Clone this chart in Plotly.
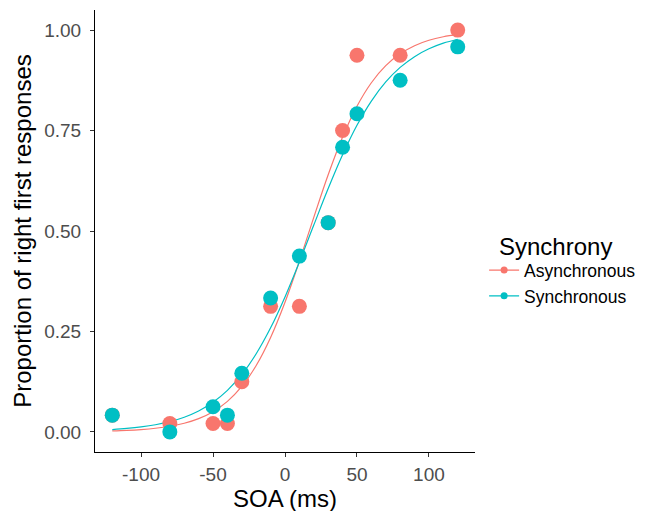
import plotly.graph_objects as go

# Observed proportions
soa = [-120, -80, -50, -40, -30, -10, 10, 30, 40, 50, 80, 120]
async_prop = [0.0417, 0.0208, 0.0208, 0.0208, 0.125, 0.3125, 0.3125, 0.5208, 0.75, 0.9375, 0.9375, 1.0]
sync_prop = [0.0417, 0.0, 0.0625, 0.0417, 0.1458, 0.3333, 0.4375, 0.5208, 0.7083, 0.7917, 0.875, 0.9583]

# Fitted curves
fit_x = [-120, -110, -100, -90, -80, -70, -60, -50, -40, -30, -20, -10, 0,
         10, 20, 30, 40, 50, 60, 70, 80, 90, 100, 110, 120]
fit_async = [0.0025, 0.0038, 0.0059, 0.0091, 0.0140, 0.0216, 0.0331, 0.0504, 0.0760,
             0.1131, 0.1652, 0.2349, 0.3226, 0.4248, 0.5340, 0.6400, 0.7338, 0.8105,
             0.8690, 0.9114, 0.9410, 0.9612, 0.9746, 0.9835, 0.9893]
fit_sync = [0.0059, 0.0086, 0.0124, 0.0178, 0.0256, 0.0366, 0.0521, 0.0737, 0.1033,
            0.1429, 0.1945, 0.2590, 0.3360, 0.4229, 0.5147, 0.6056, 0.6897, 0.7630,
            0.8233, 0.8709, 0.9071, 0.9339, 0.9535, 0.9674, 0.9772]

groups = ["Asynchronous", "Synchronous"]
colors = ["#F8766D", "#00BFC4"]
x_ticks = [-100, -50, 0, 50, 100]
y_ticks = [0.0, 0.25, 0.5, 0.75, 1.0]

FONT = "Liberation Sans, Arial, Helvetica, sans-serif"

fig = go.Figure()
for name, col, fy in zip(groups, colors, [fit_async, fit_sync]):
    fig.add_trace(go.Scatter(x=fit_x, y=fy, mode="lines", line=dict(color=col, width=1.2, shape="spline"),
                             showlegend=False, hoverinfo="skip"))
for name, col, py in zip(groups, colors, [async_prop, sync_prop]):
    fig.add_trace(go.Scatter(x=soa, y=py, mode="markers", marker=dict(color=col, size=15, line=dict(width=0)),
                             showlegend=False, name=name))
for name, col in zip(groups, colors):
    fig.add_trace(go.Scatter(x=[None], y=[None], mode="lines+markers", name=name,
                             line=dict(color=col, width=1.2), marker=dict(color=col, size=7)))

fig.update_layout(
    width=647, height=511,
    margin=dict(l=87, r=180, t=2, b=67),
    paper_bgcolor="white", plot_bgcolor="white",
    font=dict(family=FONT, color="black"),
    legend=dict(
        font=dict(size=17.5, color="black"),
        x=1.024, xanchor="left", y=0.452, yanchor="top",
        itemwidth=30, tracegroupgap=0, borderwidth=0,
    ),
    annotations=[dict(text="Synchrony", x=1.058, y=0.466, xref="paper", yref="paper",
                      xanchor="left", yanchor="middle", showarrow=False,
                      font=dict(size=24, color="black"))],
)
fig.update_xaxes(
    range=[-132, 132], tickvals=x_ticks, ticktext=[str(v) for v in x_ticks],
    showgrid=False, zeroline=False, showline=True, linecolor="black", linewidth=1,
    ticks="outside", ticklen=4, tickcolor="#333333", tickwidth=1, ticklabelstandoff=1,
    tickfont=dict(size=19, color="#4D4D4D"), automargin=False,
    title=dict(text="SOA (ms)", font=dict(size=24, color="black"), standoff=0),
)
fig.update_yaxes(
    range=[-0.05, 1.05], tickvals=y_ticks, ticktext=["%.2f" % v for v in y_ticks],
    showgrid=False, zeroline=False, showline=True, linecolor="black", linewidth=1,
    ticks="outside", ticklen=4, tickcolor="#333333", tickwidth=1, ticklabelstandoff=5,
    tickfont=dict(size=19, color="#4D4D4D"), automargin=False,
    title=dict(text="Proportion of right first responses", font=dict(size=24, color="black"), standoff=5),
)
fig.write_html("out.html")
